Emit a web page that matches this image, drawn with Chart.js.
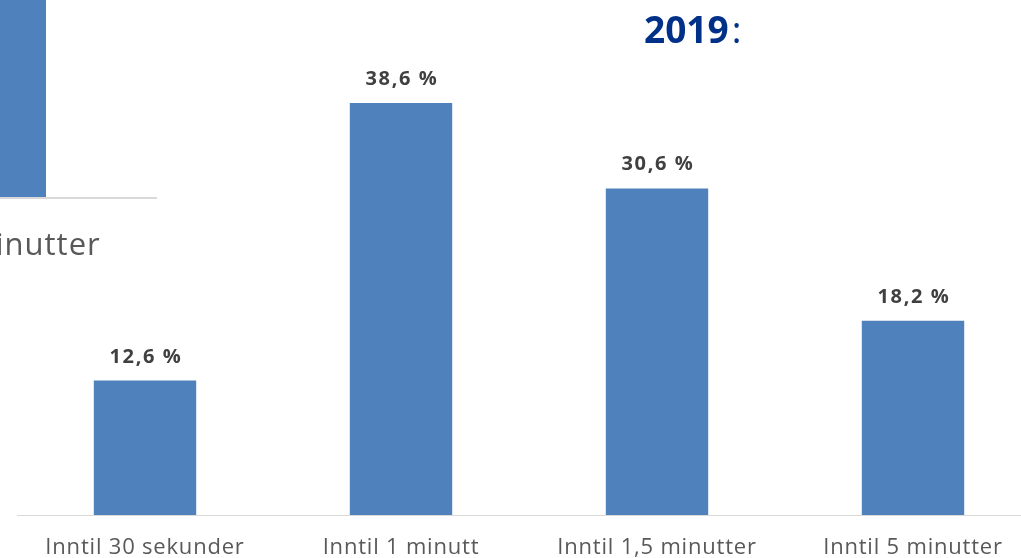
<!DOCTYPE html>
<html>
<head>
<meta charset="utf-8">
<script src="https://cdn.jsdelivr.net/npm/chart.js@4.4.1/dist/chart.umd.min.js"></script>
<style>
  html, body { margin: 0; padding: 0; background: #fff; overflow: hidden; }
  body { width: 1021px; height: 558px; position: relative; }
  #wrap { position: absolute; left: 0; top: 0; width: 1045px; height: 558px; }
  #title { position: absolute; left: 644px; top: 1px; font-family: "Open Sans", sans-serif;
           font-size: 37px; line-height: 56px; font-weight: 700; color: #003087; white-space: nowrap; }
  #title span { font-weight: 400; margin-left: 3px; }
  #prevBar { position: absolute; left: 0; top: 0; width: 46px; height: 197px; background: #4F81BD; }
  #prevAxis { position: absolute; left: 0; top: 197px; width: 157px; height: 2px; background: #d9d9d9; }
  #prevLabel { position: absolute; left: -34px; top: 217px; font-family: "Open Sans", sans-serif;
               font-size: 31px; line-height: 52px; color: #595959; letter-spacing: 1px; white-space: nowrap; }
</style>
</head>
<body>
<div id="wrap"><canvas id="c" width="1045" height="558"></canvas></div>
<div id="prevBar"></div>
<div id="prevAxis"></div>
<div id="prevLabel">minutter</div>
<div id="title">2019<span>:</span></div>
<script>
const categories = ["Inntil 30 sekunder", "Inntil 1 minutt", "Inntil 1,5 minutter", "Inntil 5 minutter"];
const shares = [12.6, 38.6, 30.6, 18.2];
const valueLabels = ["12,6 %", "38,6 %", "30,6 %", "18,2 %"];

const barColor = "#4F81BD";

// Slightly wider letter spacing for the category names
const tickSpacingPlugin = {
  id: "tickSpacing",
  beforeDraw(chart) { chart.ctx.letterSpacing = "0.8px"; },
  afterDraw(chart) { chart.ctx.letterSpacing = "0px"; }
};

// Writes the percentage above each bar
const valueLabelPlugin = {
  id: "valueLabels",
  afterDatasetsDraw(chart) {
    const ctx = chart.ctx;
    const meta = chart.getDatasetMeta(0);
    ctx.save();
    ctx.letterSpacing = "1.6px";
    ctx.font = "700 20px 'Open Sans', sans-serif";
    ctx.fillStyle = "#404040";
    ctx.textAlign = "center";
    ctx.textBaseline = "alphabetic";
    meta.data.forEach((bar, i) => {
      ctx.fillText(valueLabels[i], bar.x + 1, bar.y - 18);
    });
    ctx.restore();
  }
};

new Chart(document.getElementById("c"), {
  type: "bar",
  data: {
    labels: categories,
    datasets: [{
      data: shares,
      backgroundColor: barColor,
      borderWidth: 0,
      categoryPercentage: 1,
      barPercentage: 0.4
    }]
  },
  options: {
    responsive: false,
    animation: false,
    layout: { padding: { left: 17, right: 4, top: 0, bottom: 0 } },
    plugins: { legend: { display: false }, tooltip: { enabled: false } },
    scales: {
      y: { display: false, min: 0, max: 48.25 },
      x: {
        grid: { display: false, drawTicks: false },
        border: { display: true, color: "#d9d9d9", width: 1 },
        ticks: {
          color: "#595959",
          font: { family: "'Open Sans', sans-serif", size: 22 },
          padding: 20,
          maxRotation: 0,
          autoSkip: false
        },
        afterFit(scale) { scale.height = 43; }
      }
    }
  },
  plugins: [tickSpacingPlugin, valueLabelPlugin]
});
</script>
</body>
</html>
